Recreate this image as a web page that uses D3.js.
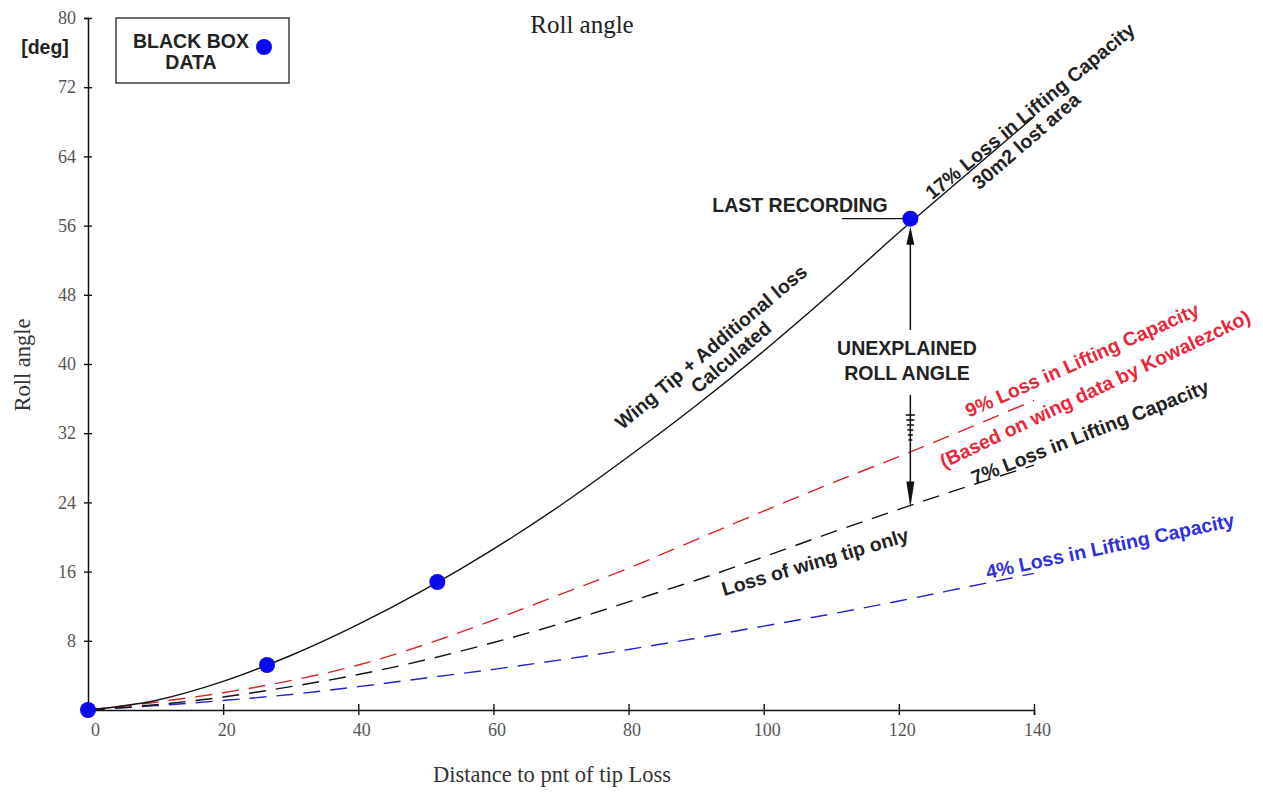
<!DOCTYPE html>
<html>
<head>
<meta charset="utf-8">
<script src="https://cdn.jsdelivr.net/npm/d3@7"></script>
<style>
  body { margin: 0; background: #fff; }
  svg { display: block; }
  .tick text { font-family: "Liberation Serif", serif; font-size: 18px; fill: #555; }
  .note { font-family: "Liberation Sans", Arial, sans-serif; font-weight: bold; font-size: 19.5px; fill: #222; }
</style>
</head>
<body>
<svg id="chart" width="1263" height="798"></svg>
<script>
// distance values shared by all the curves
const distance = [0, 10, 20, 30, 40, 50, 60, 70, 80, 90, 100, 110, 120, 130, 140];
const wingTipAdditional = [0, 1.1, 3.3, 6.3, 9.9, 14.0, 18.6, 23.7, 29.3, 35.2, 41.5, 48.2, 55.2, 61.9, 68.6]; // solid, 17%
const loss9 = [0, 0.9, 2.0, 3.4, 5.2, 7.6, 10.4, 13.4, 16.4, 19.7, 23.0, 26.2, 29.3, 32.5, 35.8];
const loss7 = [0, 0.6, 1.5, 2.7, 4.1, 5.8, 7.8, 10.0, 12.5, 15.0, 17.7, 20.5, 23.2, 25.8, 28.3];
const loss4 = [0, 0.5, 1.1, 1.8, 2.7, 3.7, 4.7, 5.8, 7.0, 8.3, 9.7, 11.1, 12.6, 14.2, 15.8];

const blackBoxX = [0, 26.5, 51.7, 121.7];
const blackBoxY = [0, 5.2, 14.8, 56.8];

const xTicks = [0, 20, 40, 60, 80, 100, 120, 140];
const yTicks = [8, 16, 24, 32, 40, 48, 56, 64, 72, 80];

const svg = d3.select('#chart');

const x = d3.scaleLinear().domain([0, 140]).range([88, 1034]);
const y = d3.scaleLinear().domain([0, 80]).range([710, 18]);

// axes, ticks cross the axis line
const xAxis = svg.append('g')
  .attr('transform', `translate(0, ${y(0)})`)
  .call(d3.axisBottom(x).tickValues(xTicks).tickSize(5).tickPadding(8));
xAxis.select('.domain').attr('stroke', '#111').attr('stroke-width', 1.5);
xAxis.selectAll('.tick line').attr('y1', -6).attr('y2', 5).attr('stroke', '#111').attr('stroke-width', 1.4);
xAxis.selectAll('.tick text').attr('dx', d => d === 0 ? 7 : 3);

const yAxis = svg.append('g')
  .attr('transform', `translate(${x(0)}, 0)`)
  .call(d3.axisLeft(y).tickValues(yTicks).tickSize(4).tickPadding(5));
yAxis.select('.domain').attr('stroke', '#111').attr('stroke-width', 1.5);
yAxis.selectAll('.tick line').attr('x1', -4).attr('x2', 4).attr('stroke', '#111').attr('stroke-width', 1.4);
yAxis.selectAll('.tick text').attr('dx', -3);

// titles
svg.append('text').attr('x', 582).attr('y', 33).attr('text-anchor', 'middle')
  .style('font-family', '"Liberation Serif", serif').style('font-size', '25px').attr('fill', '#222')
  .text('Roll angle');
svg.append('text').attr('x', 552).attr('y', 782).attr('text-anchor', 'middle')
  .style('font-family', '"Liberation Serif", serif').style('font-size', '22.5px').attr('fill', '#333')
  .text('Distance to pnt of tip Loss');
svg.append('text').attr('transform', 'translate(30, 365) rotate(-90)').attr('text-anchor', 'middle')
  .style('font-family', '"Liberation Serif", serif').style('font-size', '22.5px').attr('fill', '#333')
  .text('Roll angle');
svg.append('text').attr('class', 'note').attr('x', 45).attr('y', 54).attr('text-anchor', 'middle').text('[deg]');

// curves
const line = d3.line()
  .x(d => x(d[0]))
  .y(d => y(d[1]))
  .curve(d3.curveMonotoneX);

const series = [
  { values: loss4, color: '#2323cc', dash: '17,10' },
  { values: loss7, color: '#111', dash: '17,10' },
  { values: loss9, color: '#e0202a', dash: '17,10' },
  { values: wingTipAdditional, color: '#111', dash: null },
];

series.forEach(s => {
  svg.append('path')
    .datum(distance.map((d, i) => [d, s.values[i]]))
    .attr('d', line)
    .attr('fill', 'none')
    .attr('stroke', s.color)
    .attr('stroke-width', 1.4)
    .attr('stroke-dasharray', s.dash);
});

// unexplained roll angle arrow
const last = blackBoxX.length - 1;
const ax = x(blackBoxX[last]);
const yTop = y(blackBoxY[last]) + 8;
const yBot = y(23.4);
svg.append('line').attr('x1', ax).attr('x2', ax).attr('y1', yTop + 10).attr('y2', 330)
  .attr('stroke', '#111').attr('stroke-width', 1.5);
svg.append('line').attr('x1', ax).attr('x2', ax).attr('y1', 395).attr('y2', yBot - 12)
  .attr('stroke', '#111').attr('stroke-width', 1.5);
svg.append('path')
  .attr('d', `M${ax},${yTop} L${ax + 4},${yTop + 18} L${ax - 4},${yTop + 18} Z`)
  .attr('fill', '#111');
svg.append('path')
  .attr('d', `M${ax},${yBot} L${ax + 4},${yBot - 26} L${ax - 4},${yBot - 26} Z`)
  .attr('fill', '#111');
[415, 420, 425, 430, 435, 440].forEach((hy, i) => {
  const w = 4.5 - i * 0.5;
  svg.append('line').attr('x1', ax - w).attr('x2', ax + w).attr('y1', hy).attr('y2', hy)
    .attr('stroke', '#111').attr('stroke-width', 1.6);
});

// LAST RECORDING leader
svg.append('line').attr('x1', 842).attr('x2', ax - 5)
  .attr('y1', y(blackBoxY[last])).attr('y2', y(blackBoxY[last]))
  .attr('stroke', '#111').attr('stroke-width', 1.3);

// black box data points
svg.append('g').selectAll('circle')
  .data(blackBoxX.map((d, i) => [d, blackBoxY[i]]))
  .join('circle')
  .attr('cx', d => x(d[0]))
  .attr('cy', d => y(d[1]))
  .attr('r', 8)
  .attr('fill', '#0a0aee');

// legend
svg.append('rect').attr('x', 116).attr('y', 18).attr('width', 173).attr('height', 65)
  .attr('fill', '#fff').attr('stroke', '#222').attr('stroke-width', 1.3);
svg.append('text').attr('class', 'note').attr('x', 191).attr('y', 48).attr('text-anchor', 'middle').text('BLACK BOX');
svg.append('text').attr('class', 'note').attr('x', 191).attr('y', 69).attr('text-anchor', 'middle').text('DATA');
svg.append('circle').attr('cx', 264).attr('cy', 47).attr('r', 8).attr('fill', '#0a0aee');

// annotations
const notes = [
  { text: 'LAST RECORDING', cx: 800, cy: 205, rot: 0, color: '#222' },
  { text: 'UNEXPLAINED', cx: 907, cy: 348, rot: 0, color: '#222' },
  { text: 'ROLL ANGLE', cx: 907, cy: 373, rot: 0, color: '#222' },
  { text: '17% Loss in Lifting Capacity', cx: 1030, cy: 111, rot: -39.5, color: '#222' },
  { text: '30m2 lost area', cx: 1026, cy: 141, rot: -41, color: '#222' },
  { text: 'Wing Tip + Additional loss', cx: 711, cy: 347, rot: -40, color: '#222' },
  { text: 'Calculated', cx: 731, cy: 357, rot: -40.5, color: '#222' },
  { text: '9% Loss in Lifting Capacity', cx: 1082, cy: 360, rot: -24, color: '#e8283a' },
  { text: '(Based on wing data by Kowalezcko)', cx: 1095, cy: 389, rot: -25.5, color: '#e8283a' },
  { text: '7% Loss in Lifting Capacity', cx: 1090, cy: 432, rot: -21.5, color: '#222' },
  { text: 'Loss of wing tip only', cx: 815, cy: 562, rot: -16.5, color: '#222' },
  { text: '4% Loss in Lifting Capacity', cx: 1110, cy: 546, rot: -12, color: '#2f2fdd' },
];

svg.append('g').selectAll('text')
  .data(notes)
  .join('text')
  .attr('class', 'note')
  .attr('text-anchor', 'middle')
  .attr('dy', '0.35em')
  .attr('transform', d => `translate(${d.cx}, ${d.cy}) rotate(${d.rot})`)
  .style('fill', d => d.color)
  .text(d => d.text);
</script>
</body>
</html>
